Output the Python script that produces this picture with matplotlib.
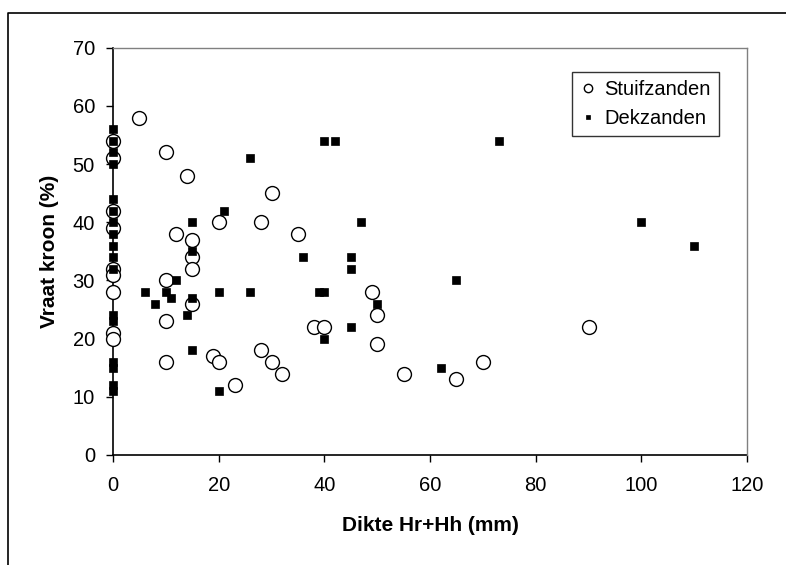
import matplotlib
matplotlib.use('Agg')
import matplotlib.pyplot as plt
from matplotlib.lines import Line2D

plt.rcParams['font.family'] = ['Liberation Sans', 'DejaVu Sans']

# Stuifzanden (open circles)
stuif_x = [0, 0, 0, 0, 0, 0, 0, 0, 0,
           5, 10, 14, 30, 20, 28, 12, 35, 15, 15, 15, 10, 49, 15, 10, 50,
           38, 40, 90, 50, 28, 19, 20, 10, 30, 32, 55, 70, 65, 23]
stuif_y = [54, 51, 42, 39, 32, 31, 28, 21, 20,
           58, 52, 48, 45, 40, 40, 38, 38, 37, 34, 32, 30, 28, 26, 23, 24,
           22, 22, 22, 19, 18, 17, 16, 16, 16, 14, 14, 16, 13, 12]

# Dekzanden (filled squares)
dek_x = [0, 0, 0, 0, 0, 0, 0, 0, 0, 0, 0, 0, 0, 0, 0, 0, 0,
         6, 8, 10, 11, 12, 14, 15, 15, 15, 15, 20, 20, 21, 26, 26, 36,
         39, 40, 40, 42, 40, 45, 45, 45, 47, 50, 62, 65, 73, 100, 110]
dek_y = [56, 54, 52, 50, 44, 42, 40, 38, 36, 34, 32, 24, 23, 16, 15, 12, 11,
         28, 26, 28, 27, 30, 24, 40, 35, 27, 18, 28, 11, 42, 51, 28, 34,
         28, 28, 54, 54, 20, 34, 32, 22, 40, 26, 15, 30, 54, 40, 36]

x_ticks = [0, 20, 40, 60, 80, 100, 120]
y_ticks = [0, 10, 20, 30, 40, 50, 60, 70]

fig = plt.figure(figsize=(7.86, 5.65), dpi=100)
ax = fig.add_axes([0.1438, 0.1947, 0.8066, 0.7209])

ax.plot(stuif_x, stuif_y, linestyle='none', marker='o', markersize=10,
        markerfacecolor='white', markeredgecolor='black', markeredgewidth=1.0,
        label='Stuifzanden', zorder=3, clip_on=False)
ax.plot(dek_x, dek_y, linestyle='none', marker='s', markersize=5.8,
        markerfacecolor='black', markeredgecolor='black', markeredgewidth=0.5,
        label='Dekzanden', zorder=4, clip_on=False)

ax.set_xlim(0, 120)
ax.set_ylim(0, 70)
ax.set_xticks(x_ticks)
ax.set_yticks(y_ticks)
ax.tick_params(direction='out', length=5, width=1, labelsize=14.5, color='black')
ax.tick_params(axis='x', pad=10)
ax.tick_params(axis='y', pad=8)

for side in ['left', 'bottom']:
    ax.spines[side].set_color('black')
    ax.spines[side].set_linewidth(1.2)
    ax.spines[side].set_zorder(2)
for side in ['top', 'right']:
    ax.spines[side].set_color('#808080')
    ax.spines[side].set_linewidth(1.0)

ax.set_xlabel('Dikte Hr+Hh (mm)', fontsize=15, fontweight='bold', labelpad=15)
ax.set_ylabel('Vraat kroon (%)', fontsize=15, fontweight='bold', labelpad=10)

leg = ax.legend(loc='upper left', bbox_to_anchor=(0.724, 0.940), borderaxespad=0,
                fontsize=14.5, frameon=True, fancybox=False, markerscale=0.6,
                handlelength=0.8, handletextpad=0.4, labelspacing=0.5,
                borderpad=0.4)
leg.get_frame().set_edgecolor('black')
leg.get_frame().set_linewidth(1.0)
leg.set_zorder(10)

# outer chart frame (cropped at right and bottom)
fig.add_artist(Line2D([8 / 786, 8 / 786, 1.0], [0.0, 1 - 13 / 565, 1 - 13 / 565],
                      transform=fig.transFigure, color='black', linewidth=1.2))

fig.savefig('out.png', dpi=100)
